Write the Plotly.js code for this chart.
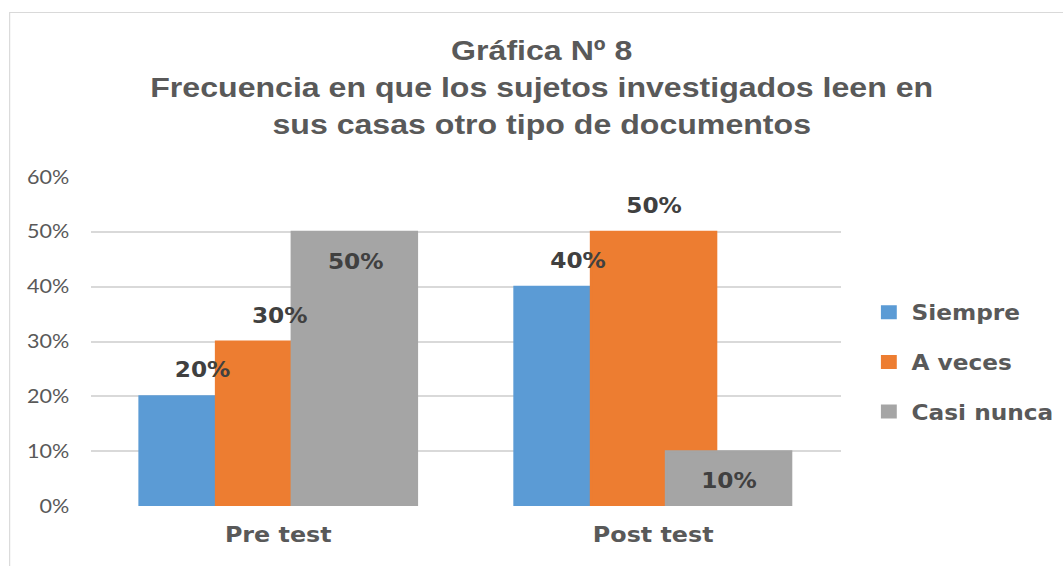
<!DOCTYPE html>
<html>
<head>
<meta charset="utf-8">
<script src="https://cdn.plot.ly/plotly-3.0.1.min.js"></script>
<style>
  html, body { margin: 0; padding: 0; background: #ffffff; overflow: hidden; }
  #wrap { position: absolute; left: 0; top: 0; width: 937px; height: 566px;
          transform: scaleX(1.1345); transform-origin: 0 0; }
  #frame { position: absolute; left: 8px; top: 12px; width: 1000px; height: 600px;
           border: 1.5px solid #d9d9d9; box-sizing: border-box; }
  #chart { position: absolute; left: 0; top: 0; width: 937px; height: 566px; }
</style>
</head>
<body>
<div id="wrap">
  <div id="frame"></div>
  <div id="chart"></div>
</div>
<script>
// ---- data ----
const categories = ["Pre test", "Post test"];
const seriesNames = ["Siempre", "A veces", "Casi nunca"];
const siempre = [0.20, 0.40];
const aVeces = [0.30, 0.50];
const casiNunca = [0.50, 0.10];
const yTickVals = [0, 0.1, 0.2, 0.3, 0.4, 0.5, 0.6];
const yTickText = ["0%", "10%", "20%", "30%", "40%", "50%", "60%"];

// ---- style ----
const colors = ["#5b9bd5", "#ed7d31", "#a5a5a5"];
const barOffsets = [[-0.370, -0.370], [-0.166, -0.166], [0.036, 0.034]];
const barWidths = [[0.200, 0.200], [0.200, 0.334], [0.334, 0.334]];
const stdWidth = 0.204;
const labelShift = 0.067;
const labelInside = [[false, false], [false, false], [true, true]];

const values = [siempre, aVeces, casiNunca];
const xIdx = categories.map((c, i) => i);

const traces = values.map((vals, s) => ({
  type: "bar",
  name: seriesNames[s],
  x: xIdx,
  y: vals,
  offset: barOffsets[s],
  width: barWidths[s],
  marker: { color: colors[s], line: { color: colors[s], width: 2 } },
  legendgroup: "g" + s,
  hoverinfo: "skip"
}));

const annotations = [];
values.forEach((vals, s) => {
  vals.forEach((v, i) => {
    annotations.push({
      x: xIdx[i] + barOffsets[s][i] + stdWidth / 2 + labelShift,
      y: v,
      xref: "x", yref: "y",
      text: Math.round(v * 100) + "%",
      showarrow: false,
      xanchor: "center", yanchor: "middle",
      yshift: labelInside[s][i] ? -30 : 26,
      font: { family: "DejaVu Sans", size: 20.5, color: "#404040", weight: "bold" }
    });
  });
});

const layout = {
  width: 937, height: 566,
  margin: { l: 80, r: 196, t: 177, b: 60, autoexpand: false },
  paper_bgcolor: "rgba(0,0,0,0)",
  plot_bgcolor: "rgba(0,0,0,0)",
  title: {
    text: "Gráfica Nº 8<br>Frecuencia en que los sujetos investigados leen en<br>sus casas otro tipo de documentos",
    xref: "container", yref: "container",
    x: 0.5096, xanchor: "center",
    y: 1 - 60 / 566, yanchor: "top",
    font: { family: "Liberation Sans, Arial, sans-serif", size: 28.3, color: "#595959", weight: "bold" }
  },
  showlegend: true,
  legend: {
    x: 1.034, xanchor: "left",
    y: 0.4377, yanchor: "middle",
    traceorder: "grouped",
    tracegroupgap: 20,
    itemwidth: 30,
    font: { family: "DejaVu Sans", size: 20.5, color: "#595959", weight: "bold" },
    bgcolor: "rgba(0,0,0,0)"
  },
  xaxis: {
    type: "linear",
    range: [-0.5, 1.5],
    tickvals: xIdx,
    ticktext: categories,
    showgrid: false,
    zeroline: false,
    showline: false,
    ticks: "",
    ticklabelstandoff: 14,
    tickfont: { family: "DejaVu Sans", size: 21, color: "#595959", weight: "bold" },
    fixedrange: true
  },
  yaxis: {
    range: [0, 0.6],
    tickvals: yTickVals,
    ticktext: yTickText,
    showgrid: true,
    gridcolor: "#d9d9d9",
    gridwidth: 2,
    zeroline: false,
    showline: false,
    ticks: "",
    ticklabelstandoff: 18,
    tickfont: { family: "Lato, sans-serif", size: 19, color: "#595959" },
    fixedrange: true
  },
  bargap: 0,
  annotations: annotations
};

Plotly.newPlot("chart", traces, layout, { displayModeBar: false, staticPlot: true });
</script>
</body>
</html>
